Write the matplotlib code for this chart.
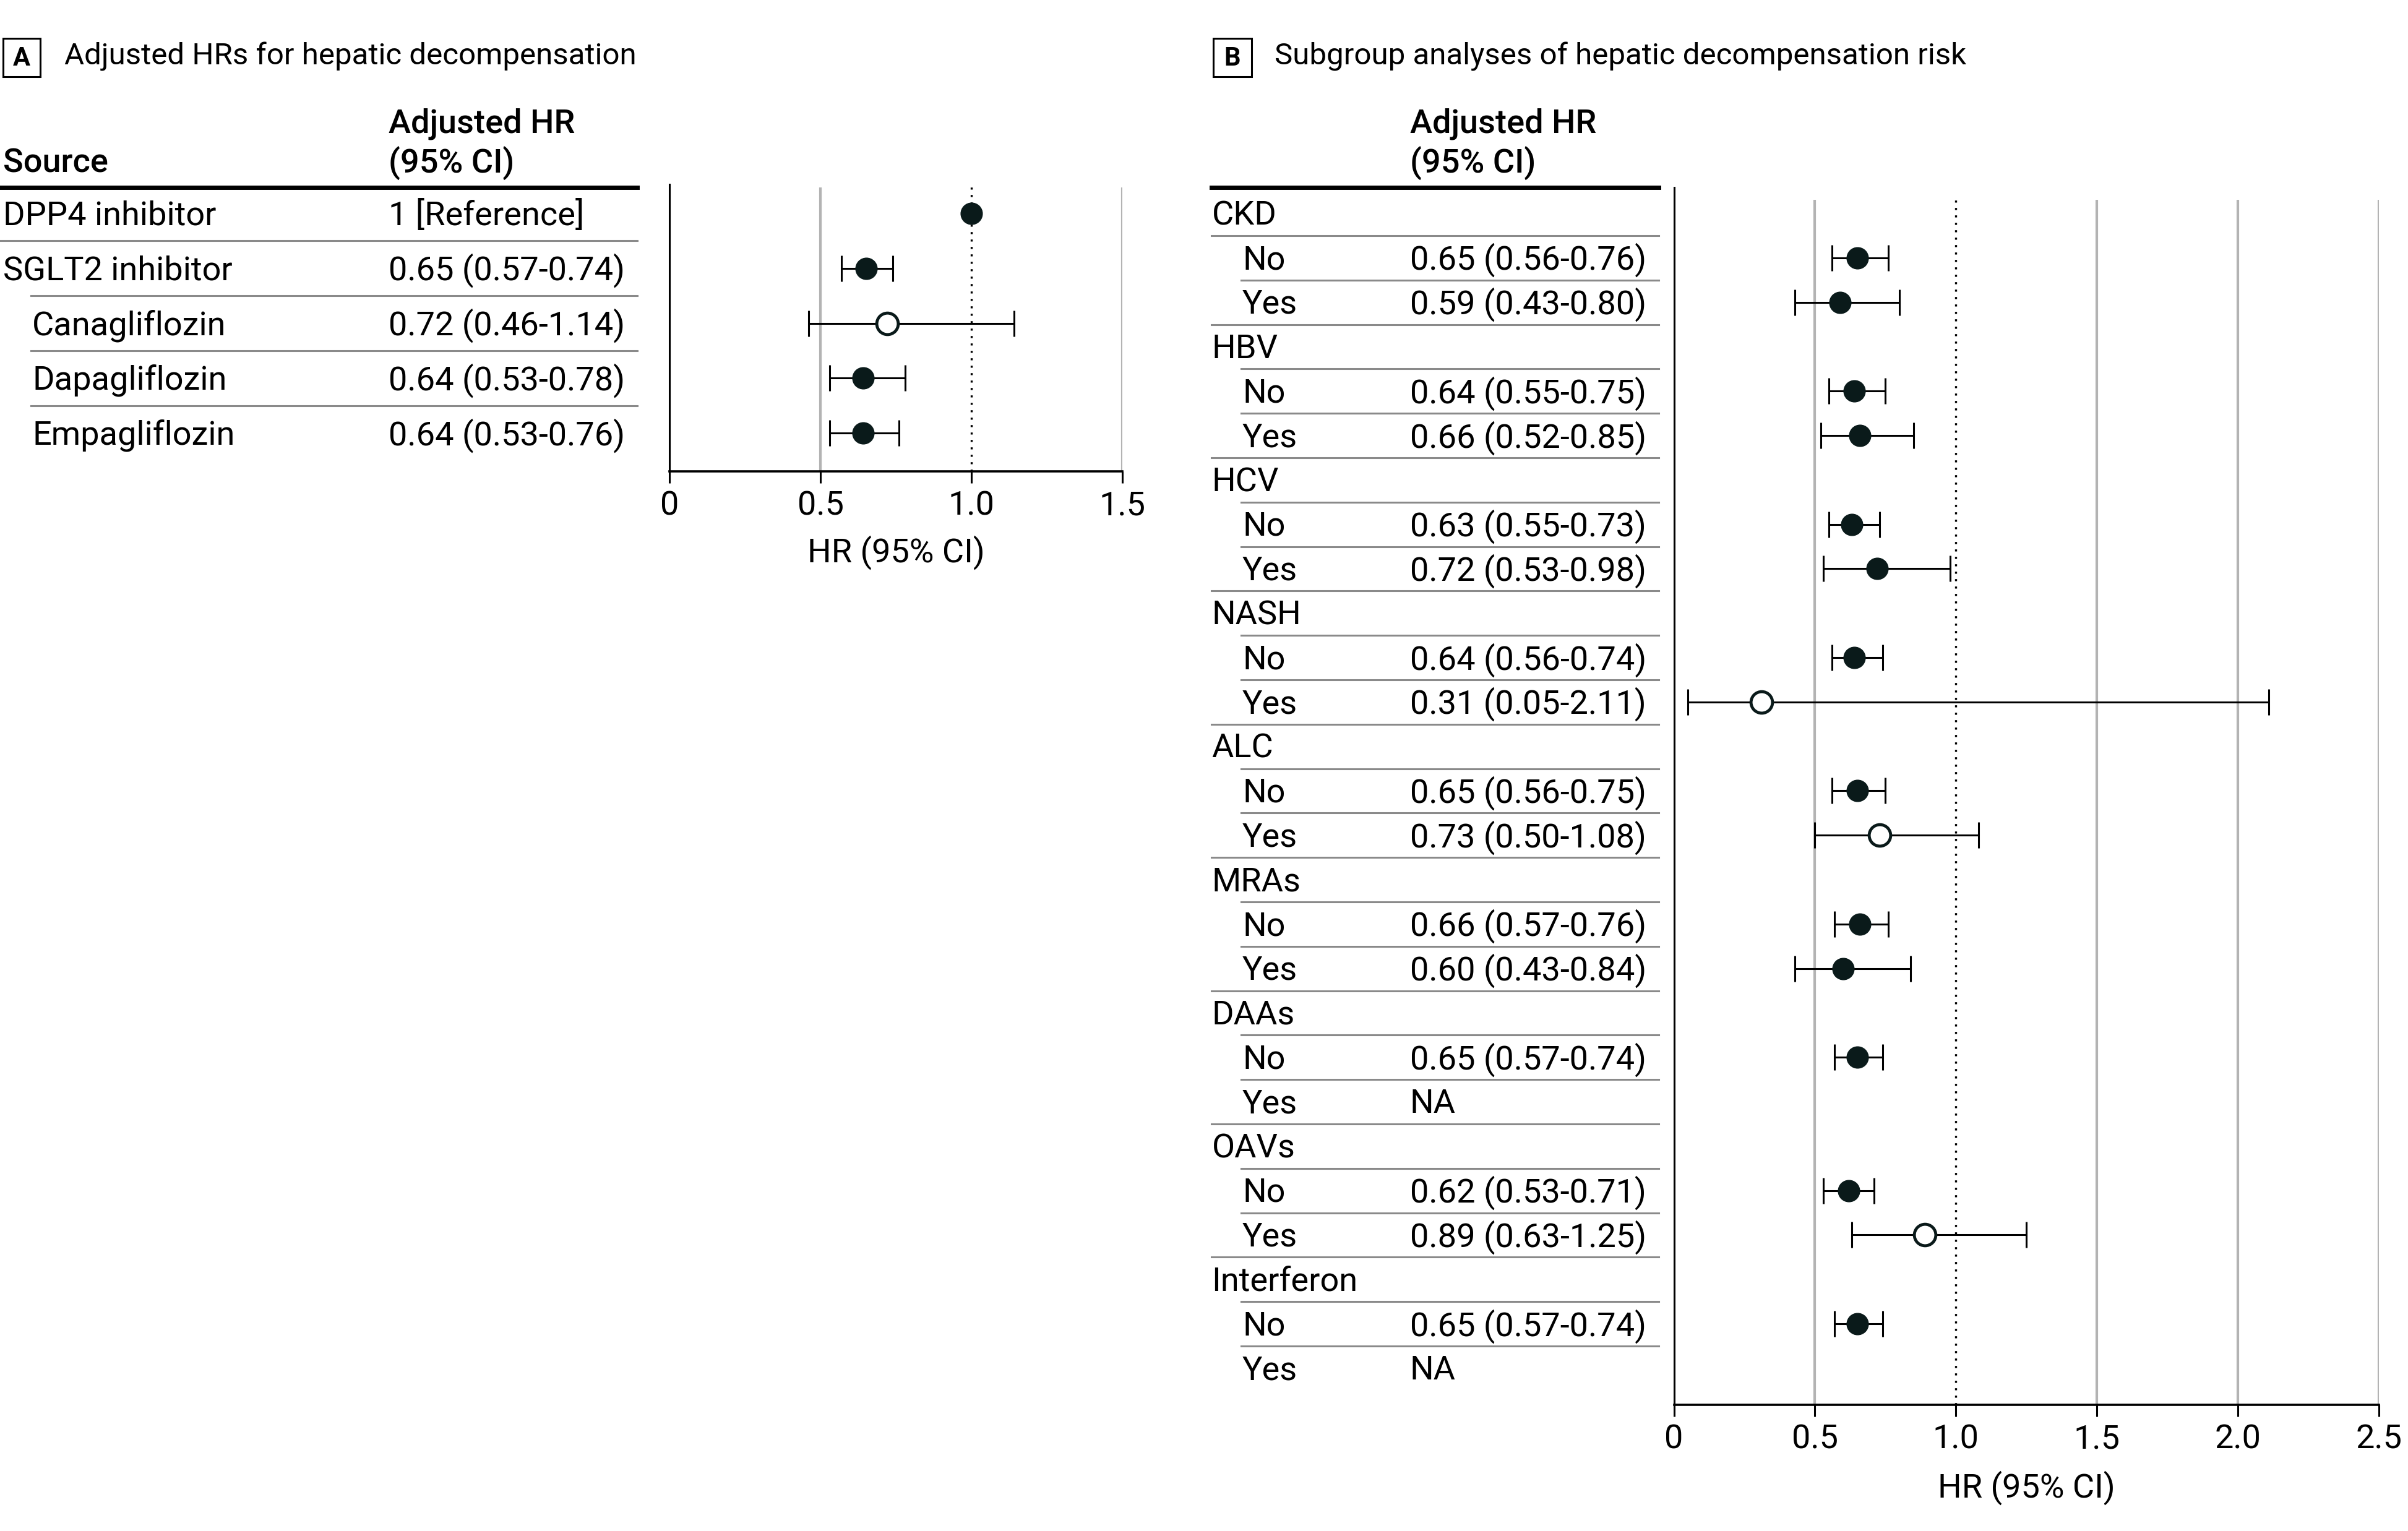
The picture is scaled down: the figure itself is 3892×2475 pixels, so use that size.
import numpy as np
import matplotlib
matplotlib.use('Agg')
import matplotlib.pyplot as plt
from matplotlib.lines import Line2D
from matplotlib.patches import Rectangle

plt.rcParams['font.family'] = ['Roboto', 'DejaVu Sans']
plt.rcParams['font.size'] = 39

# ---- panel A data ----
sources_a = ['DPP4 inhibitor', 'SGLT2 inhibitor', 'Canagliflozin', 'Dapagliflozin', 'Empagliflozin']
indent_a = [False, False, True, True, True]
hr_a = [1.00, 0.65, 0.72, 0.64, 0.64]
lo_a = [np.nan, 0.57, 0.46, 0.53, 0.53]
hi_a = [np.nan, 0.74, 1.14, 0.78, 0.76]

# ---- panel B data ----
groups_b = ['CKD', 'HBV', 'HCV', 'NASH', 'ALC', 'MRAs', 'DAAs', 'OAVs', 'Interferon']
hr_no = [0.65, 0.64, 0.63, 0.64, 0.65, 0.66, 0.65, 0.62, 0.65]
lo_no = [0.56, 0.55, 0.55, 0.56, 0.56, 0.57, 0.57, 0.53, 0.57]
hi_no = [0.76, 0.75, 0.73, 0.74, 0.75, 0.76, 0.74, 0.71, 0.74]
hr_yes = [0.59, 0.66, 0.72, 0.31, 0.73, 0.60, np.nan, 0.89, np.nan]
lo_yes = [0.43, 0.52, 0.53, 0.05, 0.50, 0.43, np.nan, 0.63, np.nan]
hi_yes = [0.80, 0.85, 0.98, 2.11, 1.08, 0.84, np.nan, 1.25, np.nan]

MARK = '#0a1a1a'
GRID = '#b3b3b3'
SEP = '#8a8a8a'
W, H = 1568.0, 997.0  # layout units (reference preview pixels)
DY = 1.5  # small baseline nudge for table text

fig = plt.figure(figsize=(38.92, 24.75), dpi=100)


def rect(x0, y0, x1, y1):
    return [x0 / W, 1 - y1 / H, (x1 - x0) / W, (y1 - y0) / H]


def ftext(x, y, s, **kw):
    fig.text(x / W, 1 - y / H, s, **kw)


def fline(x0, x1, y, **kw):
    fig.add_artist(Line2D([x0 / W, x1 / W], [1 - y / H, 1 - y / H], transform=fig.transFigure, **kw))


def fmt(h, l, u):
    if np.isnan(h):
        return 'NA'
    return f'{h:.2f} ({l:.2f}-{u:.2f})'


def forest(ax, ys, hr, lo, hi):
    for y, h, l, u in zip(ys, hr, lo, hi):
        if np.isnan(h):
            continue
        if not np.isnan(l):
            ax.errorbar(h, y, xerr=[[h - l], [u - h]], fmt='none', ecolor='black',
                        elinewidth=2.2, capsize=15, capthick=2.2, zorder=3)
            open_mark = u >= 1
        else:
            open_mark = False
        ax.plot(h, y, 'o', ms=25, mfc='white' if open_mark else MARK, mec=MARK,
                mew=3.5 if open_mark else 1, zorder=4)


def style_axis(ax, xmax, ticks, ticklabels, ylim, grid_top, dot_top):
    ax.set_xlim(0, xmax)
    ax.set_ylim(*ylim)
    for s in ['top', 'right']:
        ax.spines[s].set_visible(False)
    ax.spines['left'].set_linewidth(2.2)
    ax.spines['bottom'].set_linewidth(2.6)
    ax.set_yticks([])
    ax.set_xticks(ticks)
    ax.set_xticklabels(ticklabels)
    ax.tick_params(axis='x', direction='out', length=14, width=2.2, pad=8, labelsize=39)
    for t in ticks:
        if t in (0, 1.0):
            continue
        ax.vlines(t, ylim[0], grid_top, color=GRID, lw=3, zorder=1)
    ax.vlines(1.0, ylim[0], dot_top, color='black', lw=2.4, linestyles=(0, (1, 2.6)), zorder=2)


# ================= Panel A =================
row_a = 35.75
y0_a = 139.0
ya = np.arange(len(sources_a))

fig.add_artist(Rectangle((2 / W, 1 - 50 / H), 24 / W, 25 / H, transform=fig.transFigure,
                         fill=False, ec='black', lw=2.2))
ftext(14, 38, 'A', ha='center', va='center', fontsize=30, fontweight='bold')
ftext(42, 37, 'Adjusted HRs for hepatic decompensation', ha='left', va='center', fontsize=35.5)

ftext(2, 105 + DY, 'Source', ha='left', va='center', fontweight='medium')
ftext(253, 79 + DY, 'Adjusted HR', ha='left', va='center', fontweight='medium')
ftext(253, 105 + DY, '(95% CI)', ha='left', va='center', fontweight='medium')
fline(0, 415, 122, color='black', lw=5)

for i, (src, ind) in enumerate(zip(sources_a, indent_a)):
    yy = y0_a + i * row_a
    ftext(21 if ind else 2, yy + DY, src, ha='left', va='center')
    lab = '1 [Reference]' if np.isnan(lo_a[i]) else fmt(hr_a[i], lo_a[i], hi_a[i])
    ftext(253, yy + DY, lab, ha='left', va='center')
    if i < len(sources_a) - 1:
        fline(20 if i >= 1 else 0, 415, yy + row_a / 2, color=SEP, lw=2.2)

axA = fig.add_axes(rect(436, 120, 731, 307))
ylimA = ((307 - y0_a) / row_a, (120 - y0_a) / row_a)
style_axis(axA, 1.5, [0, 0.5, 1.0, 1.5], ['0', '0.5', '1.0', '1.5'], ylimA,
           (122 - y0_a) / row_a, (117 - y0_a) / row_a)
forest(axA, ya, hr_a, lo_a, hi_a)
ftext(583.5, 360, 'HR (95% CI)', ha='center', va='center')

# ================= Panel B =================
row_b = (891 - 139) / 26.0
y0_b = 139.0

fig.add_artist(Rectangle((790 / W, 1 - 50 / H), 25 / W, 25 / H, transform=fig.transFigure,
                         fill=False, ec='black', lw=2.2))
ftext(802.5, 38, 'B', ha='center', va='center', fontsize=30, fontweight='bold')
ftext(830, 37, 'Subgroup analyses of hepatic decompensation risk', ha='left', va='center', fontsize=35.5)

ftext(918, 79 + DY, 'Adjusted HR', ha='left', va='center', fontweight='medium')
ftext(918, 105 + DY, '(95% CI)', ha='left', va='center', fontweight='medium')
fline(789, 1080, 122, color='black', lw=5)

ys_no, ys_yes = [], []
for g, grp in enumerate(groups_b):
    r = 3 * g
    yh = y0_b + r * row_b
    yn = yh + row_b
    yy = yn + row_b
    ys_no.append(r + 1)
    ys_yes.append(r + 2)
    ftext(789, yh + DY, grp, ha='left', va='center')
    ftext(809, yn + DY, 'No', ha='left', va='center')
    ftext(809, yy + DY, 'Yes', ha='left', va='center')
    ftext(918, yn + DY, fmt(hr_no[g], lo_no[g], hi_no[g]), ha='left', va='center')
    ftext(918, yy + DY, fmt(hr_yes[g], lo_yes[g], hi_yes[g]), ha='left', va='center')
    fline(789 if g == 0 else 808, 1080, yh + row_b / 2, color=SEP, lw=2.2)
    fline(808, 1080, yn + row_b / 2, color=SEP, lw=2.2)
    if g < len(groups_b) - 1:
        fline(789, 1080, yy + row_b / 2, color=SEP, lw=2.2)

axB = fig.add_axes(rect(1090, 122, 1549, 915))
ylimB = ((915 - y0_b) / row_b, (122 - y0_b) / row_b)
style_axis(axB, 2.5, [0, 0.5, 1.0, 1.5, 2.0, 2.5], ['0', '0.5', '1.0', '1.5', '2.0', '2.5'], ylimB,
           (130 - y0_b) / row_b, (128 - y0_b) / row_b)
forest(axB, ys_no, hr_no, lo_no, hi_no)
forest(axB, ys_yes, hr_yes, lo_yes, hi_yes)
ftext(1319.5, 969, 'HR (95% CI)', ha='center', va='center')

fig.savefig('out.png', dpi=100)
